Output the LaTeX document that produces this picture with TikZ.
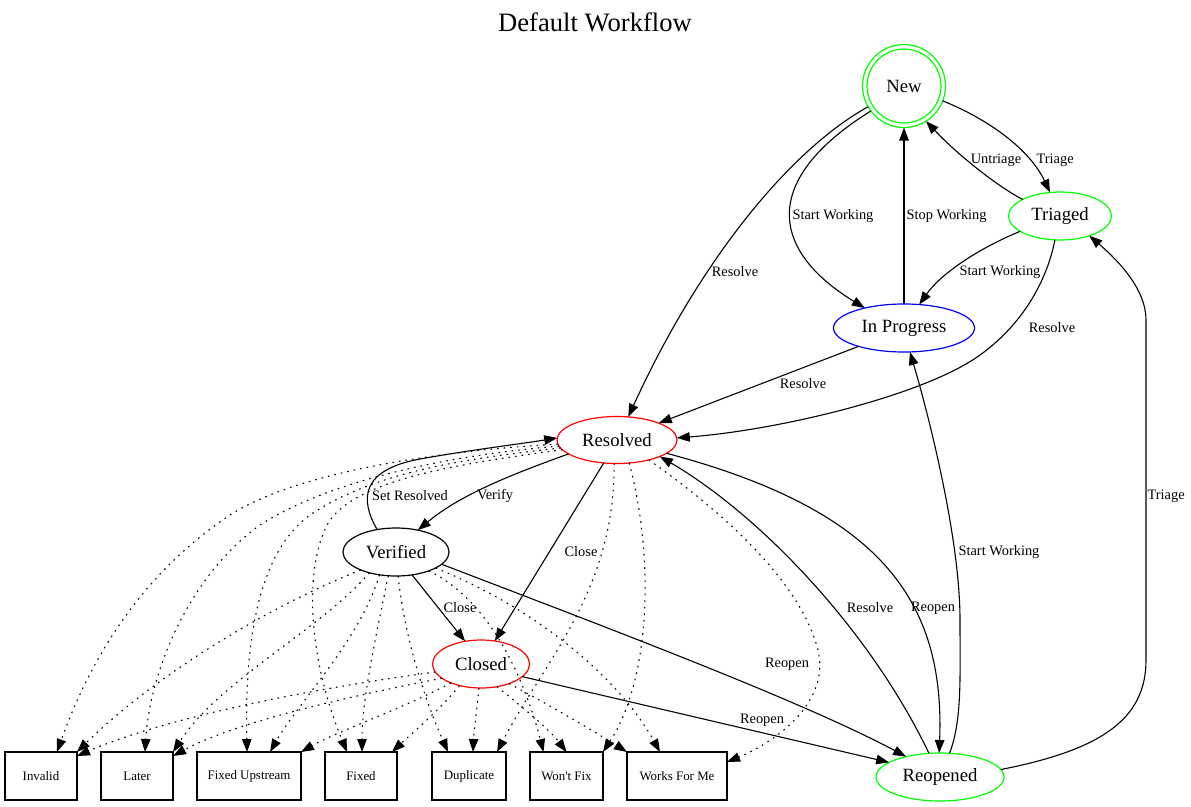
\documentclass[tikz,border=0pt]{standalone}
\usepackage{fontspec}
\setmainfont{Liberation Serif}
\newfontfamily\nolig{Liberation Serif}[Ligatures=ResetAll]
\usetikzlibrary{arrows.meta,shapes.geometric}
\begin{document}
\begin{tikzpicture}[x=1pt,y=-1pt,
  st/.style={ellipse, draw, line width=1.2pt, inner sep=0pt, outer sep=0pt, minimum height=48pt, font=\fontsize{18.7}{20}\selectfont},
  term/.style={rectangle, draw, line width=1.3pt, inner sep=0pt, outer sep=0pt, minimum height=48pt, font=\fontsize{12.9}{14}\selectfont},
  arr/.style={line width=1.1pt, -{Triangle[length=13pt,width=9.5pt]}},
  dotarr/.style={arr, dash pattern=on 1.6pt off 5pt},
  elabel/.style={font=\fontsize{14.4}{16}\selectfont, inner sep=0pt},
]
\useasboundingbox (0,0) rectangle (1191,806);
\node[font=\fontsize{26.6}{30}\selectfont] (title) at (595,22) {Default Workflow};

% states
\node[circle, draw=green, line width=1.2pt, minimum size=83pt, inner sep=0pt, outer sep=0pt, font=\fontsize{18.7}{20}\selectfont] (new) at (904,86) {New};
\draw[green, line width=1.2pt] (new.center) circle[radius=37];
\node[st, draw=green, minimum width=103pt] (tri) at (1060,216) {Triaged};
\node[st, draw=blue, minimum width=141pt] (inp) at (904,328) {In Progress};
\node[st, draw=red, minimum width=120pt, minimum height=47pt] (res) at (617,440) {Resolved};
\node[st, minimum width=106pt] (ver) at (396,552) {Verified};
\node[st, draw=red, minimum width=97pt] (clo) at (481,664) {Closed};
\node[st, draw=green, minimum width=128pt] (reo) at (940,777) {Reopened};

% terminal boxes
\node[term, minimum width=72pt] (inv) at (41,776) {Invalid};
\node[term, minimum width=72pt] (lat) at (137,776) {Later};
\node[term, minimum width=104pt] (fu) at (249,776) {Fixed Upstream};
\node[term, minimum width=72pt] (fix) at (361,776) {Fixed};
\node[term, minimum width=74pt] (dup) at (469,776) {Duplicate};
\node[term, minimum width=73pt] (wf) at (566.5,776) {\nolig Won't Fix};
\node[term, minimum width=100pt] (wfm) at (677,776) {Works For Me};

% solid transitions
\draw[arr] (new.-21) .. controls (990,120) and (1030,150) .. (tri.113.5)
  node[elabel, at={(1036,160)}, anchor=west] {Triage};
\draw[arr] (tri.156) .. controls (1000,188) and (960,157) .. (new.-58)
  node[elabel, at={(996,160)}] {Untriage};
\draw[arr] (new.-143) .. controls (760,180) and (770,250) .. (inp.153)
  node[elabel, at={(833,216)}] {Start Working};
\draw[arr] (inp.north) -- (new.south)
  node[elabel, at={(906,216)}, anchor=west] {Stop Working};
\draw[arr] (tri.-159) .. controls (975,250) and (940,275) .. (inp.57)
  node[elabel, at={(1000,272)}] {Start Working};
\draw[arr] (tri.-102) .. controls (1045,290) and (1015,330) .. (980,355) .. controls (925,395) and (780,430) .. (res.2)
  node[elabel, at={(1052,328)}] {Resolve};
\draw[arr] (new.-150) .. controls (790,150) and (700,260) .. (res.64)
  node[elabel, at={(735,272)}] {Resolve};
\draw[arr] (inp.-158) -- (res.22)
  node[elabel, at={(803,384)}] {Resolve};
\draw[arr] (res.-164) .. controls (510,475) and (460,495) .. (ver.45)
  node[elabel, at={(495,496)}] {Verify};
\draw[arr] (ver.130) .. controls (360,500) and (360,470) .. (420,459) .. controls (470,450) and (520,444) .. (res.178)
  node[elabel, at={(410,496)}] {Set Resolved};
\draw[arr] (res.-120) -- (clo.59)
  node[elabel, at={(581,552)}] {Close};
\draw[arr] (ver.-55) -- (clo.125)
  node[elabel, at={(460,608)}] {Close};
\draw[arr] (ver.-15) .. controls (600,625) and (800,700) .. (reo.149)
  node[elabel, at={(787,664)}] {Reopen};
\draw[arr] (clo.-17) -- (reo.164)
  node[elabel, at={(762,720)}] {Reopen};
\draw[arr] (reo.115) .. controls (870,630) and (760,515) .. (res.-21)
  node[elabel, at={(870,608)}] {Resolve};
\draw[arr] (res.-15) .. controls (880,510) and (945,600) .. (reo.92)
  node[elabel, at={(933,608)}] {Reopen};
\draw[arr] (reo.68) .. controls (962,720) and (960,680) .. (960,620) .. controls (960,540) and (930,420) .. (inp.-76)
  node[elabel, at={(958,552)}, anchor=west] {Start Working};
\draw[arr] (reo.7) .. controls (1100,750) and (1146,720) .. (1146,660) -- (1146,320) .. controls (1146,290) and (1120,262) .. (tri.-34)
  node[elabel, at={(1147,496)}, anchor=west] {Triage};

% dotted transitions from Resolved
\draw[dotarr] (res.-176) .. controls (450,450) and (300,470) .. (230,515) .. controls (140,575) and (90,660) .. ([xshift=16pt]inv.north);
\draw[dotarr] (res.-174) .. controls (450,455) and (330,480) .. (260,525) .. controls (190,575) and (150,670) .. ([xshift=8pt]lat.north);
\draw[dotarr] (res.-172) .. controls (450,460) and (370,475) .. (310,515) .. controls (255,555) and (245,650) .. ([xshift=-2pt]fu.north);
\draw[dotarr] (res.-170) .. controls (450,465) and (360,480) .. (330,520) .. controls (305,560) and (305,650) .. ([xshift=-14pt]fix.north);
\draw[dotarr] (res.-97) .. controls (615,590) and (545,660) .. ([xshift=28pt]dup.north);
\draw[dotarr] (res.-62) .. controls (655,560) and (650,680) .. (wf.north east);
\draw[dotarr] (res.-32) .. controls (720,510) and (800,580) .. (818,650) .. controls (830,700) and (780,740) .. ([yshift=14pt]wfm.east);

% dotted transitions from Verified
\draw[dotarr] (ver.-153) .. controls (260,610) and (150,680) .. (inv.north east);
\draw[dotarr] (ver.-142) .. controls (320,630) and (220,680) .. (lat.north east);
\draw[dotarr] (ver.-126) .. controls (360,640) and (300,700) .. ([xshift=21pt]fu.north);
\draw[dotarr] (ver.-108) .. controls (375,640) and (362,700) .. ([xshift=1pt]fix.north);
\draw[dotarr] (ver.-85) .. controls (405,640) and (425,700) .. ([xshift=-21pt]dup.north);
\draw[dotarr] (ver.-30) .. controls (490,600) and (525,680) .. ([xshift=-23pt]wf.north);
\draw[dotarr] (ver.-22) .. controls (540,610) and (620,680) .. ([xshift=-17pt]wfm.north);

% dotted transitions from Closed
\draw[dotarr] (clo.-170) .. controls (300,690) and (160,720) .. ([yshift=-4pt]inv.north east);
\draw[dotarr] (clo.-160) .. controls (330,700) and (230,725) .. ([yshift=-4pt]lat.north east);
\draw[dotarr] (clo.-148) .. controls (400,710) and (340,730) .. (fu.north east);
\draw[dotarr] (clo.-135) .. controls (440,710) and (410,735) .. ([xshift=31pt]fix.north);
\draw[dotarr] (clo.-95) .. controls (477,710) and (474,730) .. ([xshift=4pt]dup.north);
\draw[dotarr] (clo.-55) .. controls (520,705) and (550,730) .. (wf.north);
\draw[dotarr] (clo.-35) .. controls (550,705) and (600,735) .. (wfm.north west);
\end{tikzpicture}
\end{document}
